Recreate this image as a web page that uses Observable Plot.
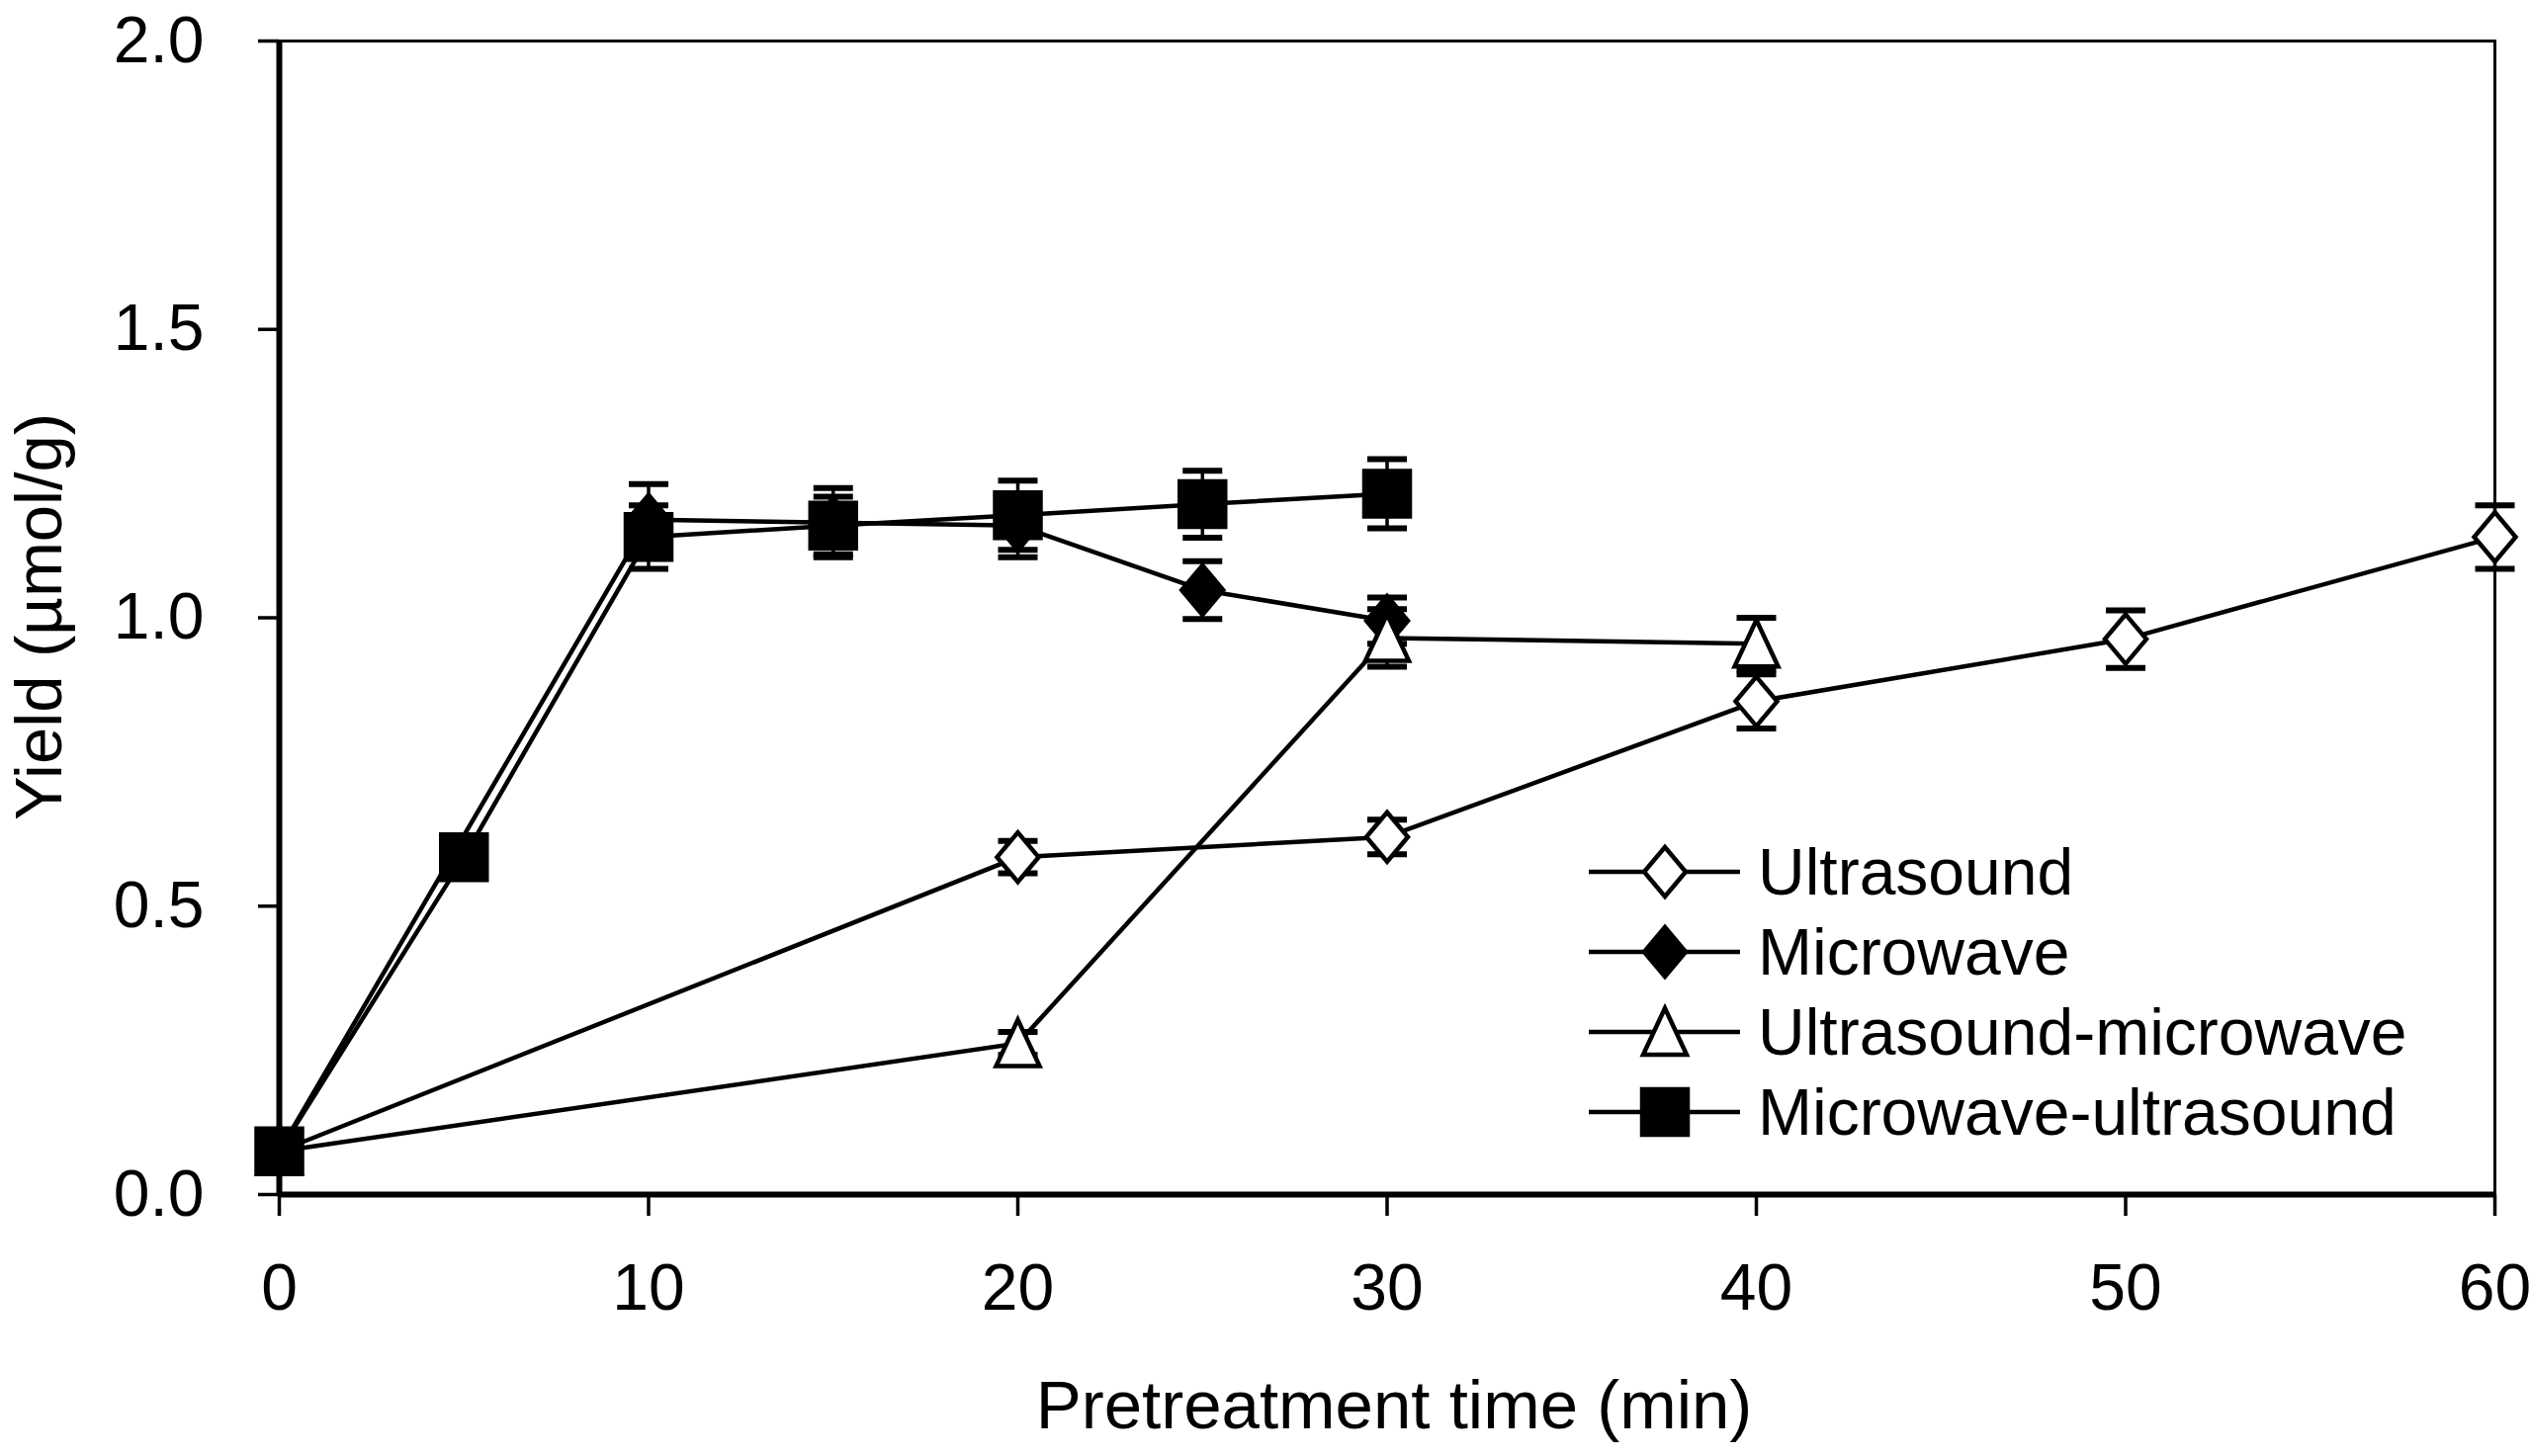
<!DOCTYPE html>
<html><head><meta charset="utf-8">
<script src="https://cdn.jsdelivr.net/npm/d3@7"></script>
<script src="https://cdn.jsdelivr.net/npm/@observablehq/plot@0.6"></script>
<style>html,body{margin:0;padding:0;background:#fff;} svg{display:block}</style>
</head><body><div id="chart"></div>
<script>
// ---- data ----
const seriesNames = ["Ultrasound", "Microwave", "Ultrasound-microwave", "Microwave-ultrasound"];

const ultrasoundTime = [0, 20, 30, 40, 50, 60];
const ultrasoundYield = [0.075, 0.585, 0.62, 0.855, 0.963, 1.14];
const ultrasoundErr = [0, 0.028, 0.03, 0.047, 0.05, 0.055];

const microwaveTime = [0, 10, 15, 20, 25, 30];
const microwaveYield = [0.075, 1.17, 1.165, 1.16, 1.048, 0.995];
const microwaveErr = [0, 0.062, 0.06, 0.055, 0.05, 0.04];

const usmwTime = [0, 20, 30, 40];
const usmwYield = [0.075, 0.262, 0.965, 0.955];
const usmwErr = [0, 0.02, 0.05, 0.045];

const mwusTime = [0, 5, 10, 15, 20, 25, 30];
const mwusYield = [0.075, 0.585, 1.14, 1.16, 1.178, 1.197, 1.215];
const mwusErr = [0, 0.015, 0.055, 0.05, 0.06, 0.058, 0.06];

const xTicks = [0, 10, 20, 30, 40, 50, 60];
const yTicks = [0, 0.5, 1.0, 1.5, 2.0];
const xLabel = "Pretreatment time (min)";
const yLabel = "Yield (µmol/g)";

// ---- build rows ----
const rows = (name, t, y, e) => t.map((x, i) => ({series: name, t: x, y: y[i], e: e[i]}));
const data = [
  rows(seriesNames[0], ultrasoundTime, ultrasoundYield, ultrasoundErr),
  rows(seriesNames[1], microwaveTime, microwaveYield, microwaveErr),
  rows(seriesNames[2], usmwTime, usmwYield, usmwErr),
  rows(seriesNames[3], mwusTime, mwusYield, mwusErr)
];

// ---- symbols ----
const diamondSym = {draw(c) { c.moveTo(0, -25); c.lineTo(21, 0); c.lineTo(0, 25); c.lineTo(-21, 0); c.closePath(); }};
const triangleSym = {draw(c) { c.moveTo(0, -24); c.lineTo(22, 23); c.lineTo(-22, 23); c.closePath(); }};
const squareSym = {draw(c) { c.moveTo(-23, -23); c.lineTo(23, -23); c.lineTo(23, 23); c.lineTo(-23, 23); c.closePath(); }};
const capSym = {draw(c) { c.moveTo(-20, 0); c.lineTo(20, 0); }};

const styles = [
  {symbol: diamondSym, fill: "white"},
  {symbol: diamondSym, fill: "black"},
  {symbol: triangleSym, fill: "white"},
  {symbol: squareSym, fill: "black"}
];

const W = 2559, H = 1473;
const mL = 282, mR = 36, mT = 41, mB = 265;

const marks = [
  Plot.frame({stroke: "black", strokeWidth: 3}),
  Plot.ruleX([0], {stroke: "black", strokeWidth: 6}),
  Plot.ruleY([0], {stroke: "black", strokeWidth: 6}),
  Plot.axisX({ticks: xTicks, tickSize: 22, tickPadding: 48, strokeWidth: 3.5, fontSize: 66, label: null, tickFormat: d3.format("d")}),
  Plot.axisY({ticks: yTicks, tickSize: 21, tickPadding: 55, strokeWidth: 3.5, fontSize: 66, label: null, tickFormat: d3.format(".1f")})
];

data.forEach((d, i) => {
  const withErr = d.filter(r => r.e > 0);
  marks.push(
    Plot.line(d, {x: "t", y: "y", stroke: "black", strokeWidth: 4.5}),
    Plot.ruleX(withErr, {x: "t", y1: r => r.y - r.e, y2: r => r.y + r.e, stroke: "black", strokeWidth: 3.5}),
    Plot.dot(withErr, {x: "t", y: r => r.y + r.e, symbol: capSym, r: 10, stroke: "black", strokeWidth: 6, fill: "none"}),
    Plot.dot(withErr, {x: "t", y: r => r.y - r.e, symbol: capSym, r: 10, stroke: "black", strokeWidth: 6, fill: "none"}),
    Plot.dot(d, {x: "t", y: "y", symbol: styles[i].symbol, r: 10, fill: styles[i].fill, stroke: "black", strokeWidth: 4.5})
  );
});

const chart = Plot.plot({
  width: W, height: H,
  marginLeft: mL, marginRight: mR, marginTop: mT, marginBottom: mB,
  x: {domain: [0, 60]},
  y: {domain: [0, 2]},
  style: {fontFamily: "'Liberation Sans', Arial, sans-serif", fontSize: "66px", color: "black", background: "white", overflow: "visible"},
  marks
});
document.getElementById("chart").appendChild(chart);

// ---- axis titles and legend ----
const svg = d3.select(chart);
const font = "'Liberation Sans', Arial, sans-serif";
svg.append("text").attr("x", 1410).attr("y", 1445).attr("text-anchor", "middle")
  .attr("font-family", font).attr("font-size", 69).attr("fill", "black").text(xLabel);
svg.append("text").attr("transform", "translate(62,624) rotate(-90)").attr("text-anchor", "middle")
  .attr("font-family", font).attr("font-size", 67).attr("fill", "black").text(yLabel);

const legY = [882, 963, 1044, 1125];
const lg = svg.append("g");
seriesNames.forEach((name, i) => {
  const g = lg.append("g").attr("transform", `translate(0,${legY[i]})`);
  g.append("line").attr("x1", 1607).attr("x2", 1760).attr("y1", 0).attr("y2", 0).attr("stroke", "black").attr("stroke-width", 4.5);
  const p = d3.path(); styles[i].symbol.draw(p);
  g.append("path").attr("d", p.toString()).attr("transform", "translate(1684,0)")
    .attr("fill", styles[i].fill).attr("stroke", "black").attr("stroke-width", 4.5);
  g.append("text").attr("x", 1778).attr("y", 0).attr("dy", "0.35em").attr("text-anchor", "start")
    .attr("font-family", font).attr("font-size", 66).attr("fill", "black").text(name);
});
</script>
</body></html>
